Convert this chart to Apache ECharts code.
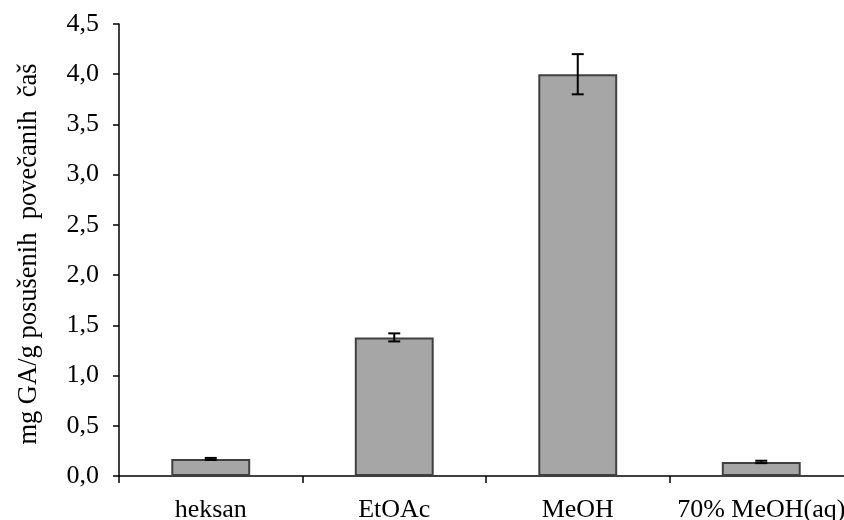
<!DOCTYPE html>
<html>
<head>
<meta charset="utf-8">
<script src="https://cdn.jsdelivr.net/npm/echarts@6/dist/echarts.min.js"></script>
<style>
  html, body { margin: 0; padding: 0; background: #fff; }
  #chart { width: 844px; height: 520px; }
</style>
</head>
<body>
<div id="chart"></div>
<script>
// Solvents used for extraction
const categories = ['heksan', 'EtOAc', 'MeOH', '70% MeOH(aq)'];
// Gallic-acid equivalents, mg GA per g dried cups
const values = [0.17, 1.38, 4.0, 0.14];
// Standard deviations
const errors = [0.01, 0.04, 0.2, 0.012];
// Y axis range and step
const yMin = 0, yMax = 4.5, yStep = 0.5;

const errorData = values.map((v, i) => [i, v - errors[i], v + errors[i]]);
const font = 'Liberation Serif, Times New Roman, serif';

const chart = echarts.init(document.getElementById('chart'), null, { renderer: 'canvas' });
chart.setOption({
  animation: false,
  backgroundColor: '#fff',
  // the category axis runs a little past the right edge of the canvas
  grid: { left: 119, width: 734, top: 24, height: 452, containLabel: false, outerBoundsMode: 'none' },
  xAxis: {
    type: 'category',
    data: categories,
    boundaryGap: true,
    axisLine: { lineStyle: { color: '#000', width: 1.5 } },
    axisTick: { show: true, interval: 0, alignWithLabel: false, length: 7, inside: false, lineStyle: { color: '#000', width: 1.5 } },
    axisLabel: { interval: 0, hideOverlap: false, color: '#000', fontFamily: font, fontSize: 26, margin: 21 },
    splitLine: { show: false }
  },
  yAxis: {
    type: 'value',
    min: yMin, max: yMax, interval: yStep,
    name: 'mg GA/g posušenih  povečanih  čaš',
    nameLocation: 'middle',
    nameGap: 76,
    nameTextStyle: { color: '#000', fontFamily: font, fontSize: 26.5, padding: [0, 8, 0, 0] },
    axisLine: { show: true, lineStyle: { color: '#000', width: 1.5 } },
    axisTick: { show: true, length: 6, inside: false, lineStyle: { color: '#000', width: 1.5 } },
    axisLabel: {
      color: '#000', fontFamily: font, fontSize: 26, margin: 20,
      formatter: v => v.toFixed(1).replace('.', ',')
    },
    splitLine: { show: false }
  },
  series: [
    {
      type: 'bar',
      data: values,
      barWidth: '43%',
      itemStyle: { color: '#a6a6a6', borderColor: '#404040', borderWidth: 2 }
    },
    {
      type: 'custom',
      data: errorData,
      z: 10,
      renderItem: function (params, api) {
        const x = api.coord([api.value(0), api.value(1)])[0];
        const yLow = api.coord([api.value(0), api.value(1)])[1];
        const yHigh = api.coord([api.value(0), api.value(2)])[1];
        const hw = 6;
        const style = { stroke: '#000', lineWidth: 2 };
        return {
          type: 'group',
          children: [
            { type: 'line', shape: { x1: x, y1: yLow, x2: x, y2: yHigh }, style: style },
            { type: 'line', shape: { x1: x - hw, y1: yLow, x2: x + hw, y2: yLow }, style: style },
            { type: 'line', shape: { x1: x - hw, y1: yHigh, x2: x + hw, y2: yHigh }, style: style }
          ]
        };
      }
    }
  ]
});
</script>
</body>
</html>
